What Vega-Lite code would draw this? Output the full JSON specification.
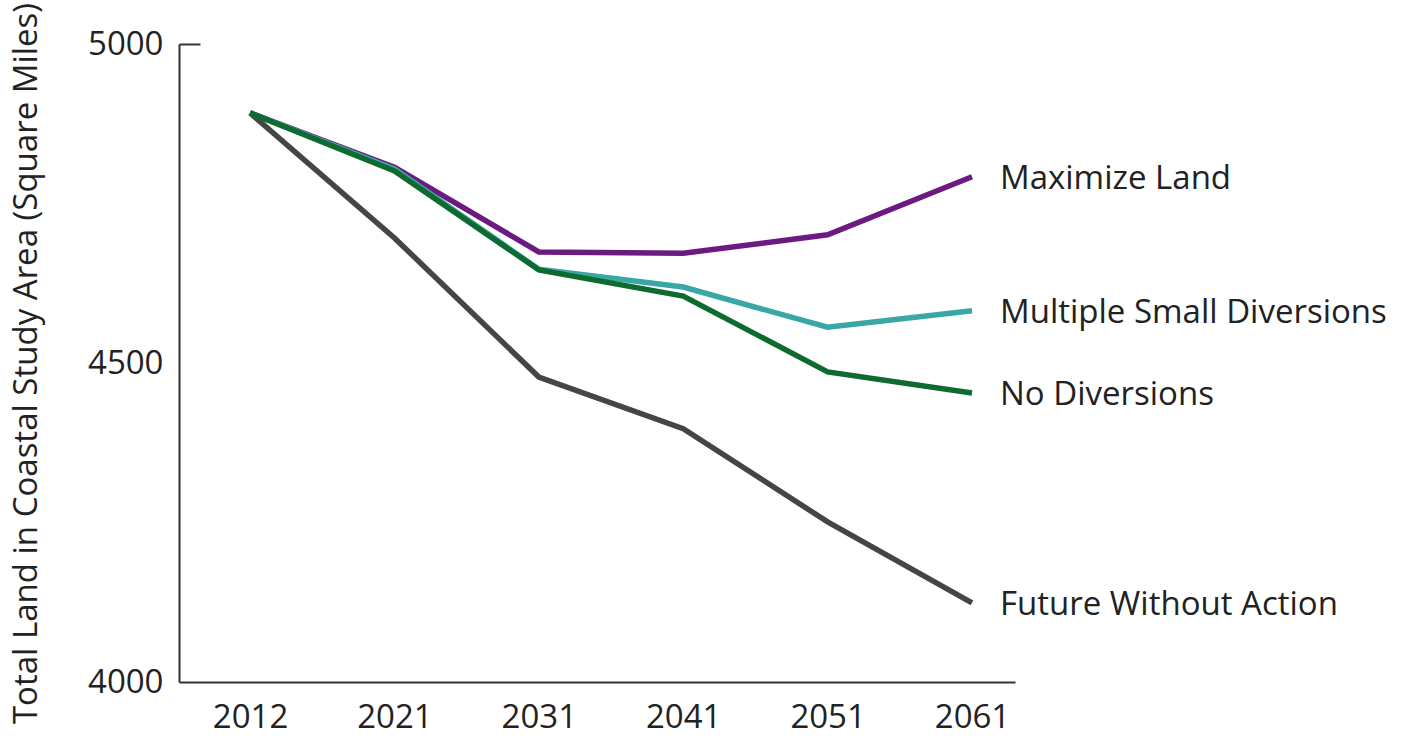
{
  "$schema": "https://vega.github.io/schema/vega-lite/v6.json",
  "width": 836,
  "height": 638,
  "autosize": "none",
  "padding": {"left": 179, "top": 44, "right": 387, "bottom": 54},
  "background": "white",
  "config": {
    "view": {"stroke": null},
    "font": "Open Sans"
  },
  "data": {
    "values": [
      {"year": "2012", "series": "Future Without Action", "value": 4892},
      {"year": "2021", "series": "Future Without Action", "value": 4696},
      {"year": "2031", "series": "Future Without Action", "value": 4478},
      {"year": "2041", "series": "Future Without Action", "value": 4397},
      {"year": "2051", "series": "Future Without Action", "value": 4251},
      {"year": "2061", "series": "Future Without Action", "value": 4124},
      {"year": "2012", "series": "Maximize Land", "value": 4892},
      {"year": "2021", "series": "Maximize Land", "value": 4807},
      {"year": "2031", "series": "Maximize Land", "value": 4674},
      {"year": "2041", "series": "Maximize Land", "value": 4672},
      {"year": "2051", "series": "Maximize Land", "value": 4701},
      {"year": "2061", "series": "Maximize Land", "value": 4792},
      {"year": "2012", "series": "Multiple Small Diversions", "value": 4892},
      {"year": "2021", "series": "Multiple Small Diversions", "value": 4804},
      {"year": "2031", "series": "Multiple Small Diversions", "value": 4647},
      {"year": "2041", "series": "Multiple Small Diversions", "value": 4619},
      {"year": "2051", "series": "Multiple Small Diversions", "value": 4556},
      {"year": "2061", "series": "Multiple Small Diversions", "value": 4582},
      {"year": "2012", "series": "No Diversions", "value": 4892},
      {"year": "2021", "series": "No Diversions", "value": 4801},
      {"year": "2031", "series": "No Diversions", "value": 4646},
      {"year": "2041", "series": "No Diversions", "value": 4605},
      {"year": "2051", "series": "No Diversions", "value": 4486},
      {"year": "2061", "series": "No Diversions", "value": 4453}
    ]
  },
  "encoding": {
    "x": {
      "field": "year",
      "type": "ordinal",
      "sort": null,
      "scale": {"type": "point", "padding": 0.395, "align": 0.623},
      "axis": {
        "title": null,
        "labelAngle": 0,
        "ticks": false,
        "domainColor": "#333333",
        "domainWidth": 2,
        "labelFont": "Open Sans",
        "labelFontSize": 33,
        "labelColor": "#222222",
        "labelPadding": 19
      }
    },
    "y": {
      "field": "value",
      "type": "quantitative",
      "scale": {"domain": [4000, 5000], "nice": false, "zero": false},
      "axis": {
        "title": "Total Land in Coastal Study Area (Square Miles)",
        "values": [4000, 4500, 5000],
        "format": "d",
        "grid": false,
        "domainColor": "#333333",
        "domainWidth": 2,
        "tickSize": -21,
        "tickWidth": 2,
        "tickColor": "#333333",
        "tickOpacity": {"condition": {"test": "datum.value == 5000", "value": 1}, "value": 0},
        "labelPadding": 37,
        "labelFont": "Open Sans",
        "labelFontSize": 33,
        "labelColor": "#222222",
        "titleFont": "Open Sans",
        "titleFontSize": 33,
        "titleFontWeight": "normal",
        "titleColor": "#222222",
        "titlePadding": 44
      }
    },
    "color": {
      "field": "series",
      "type": "nominal",
      "scale": {
        "domain": ["Future Without Action", "Maximize Land", "Multiple Small Diversions", "No Diversions"],
        "range": ["#454545", "#6a1a80", "#3aa7a7", "#0d6b30"]
      },
      "legend": null
    }
  },
  "layer": [
    {
      "mark": {"type": "line", "strokeWidth": 5.5, "strokeJoin": "miter", "strokeCap": "butt"},
      "encoding": {
        "order": {"field": "year"}
      }
    },
    {
      "transform": [{"filter": "datum.year == '2061'"}],
      "mark": {"type": "text", "align": "left", "baseline": "middle", "dx": 28, "dy": 2, "fontSize": 33, "font": "Open Sans", "color": "#222222"},
      "encoding": {
        "text": {"field": "series"},
        "color": {"value": "#222222"}
      }
    }
  ]
}
